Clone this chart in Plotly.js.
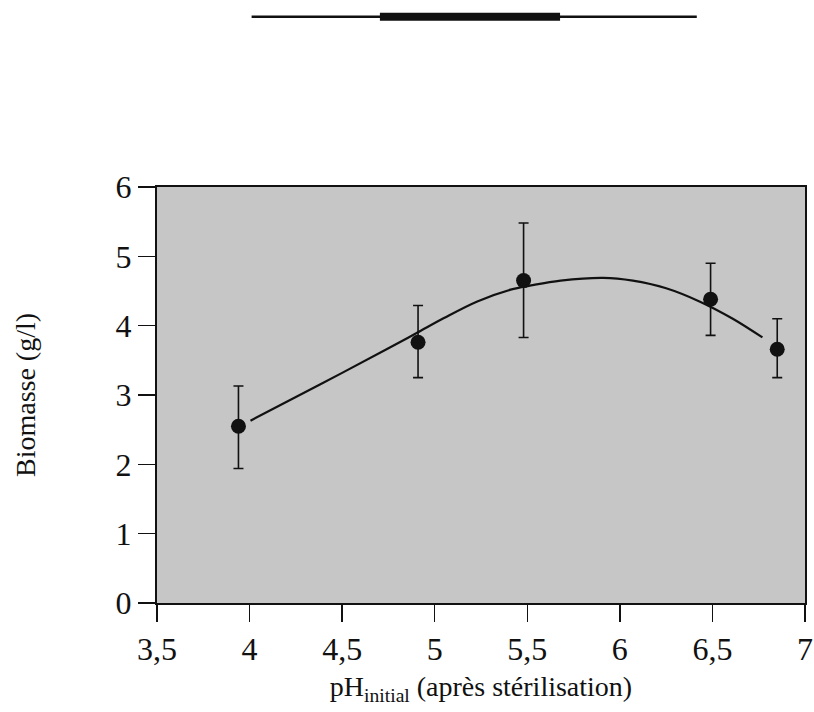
<!DOCTYPE html>
<html>
<head>
<meta charset="utf-8">
<script src="https://cdn.plot.ly/plotly-3.0.1.min.js"></script>
<style>html,body{margin:0;padding:0;background:#fff;}#chart{width:814px;height:712px;}</style>
</head>
<body>
<div id="chart"></div>
<script>
// Measured points (pH initial, biomass g/l) with error bar limits
const phValues = [3.94, 4.91, 5.48, 6.49, 6.85];
const biomass = [2.55, 3.76, 4.65, 4.38, 3.66];
const errUpper = [3.13, 4.29, 5.48, 4.90, 4.10];
const errLower = [1.94, 3.25, 3.83, 3.86, 3.25];

// Fitted curve
const fitX = [4.005, 4.38, 4.74, 4.90, 5.05, 5.23, 5.41, 5.52, 5.68, 5.91, 6.07, 6.25, 6.43, 6.61, 6.77];
const fitY = [2.63, 3.15, 3.66, 3.89, 4.11, 4.35, 4.52, 4.58, 4.65, 4.69, 4.65, 4.54, 4.35, 4.10, 3.83];

// Tick labels
const xTickVals = [3.5, 4, 4.5, 5, 5.5, 6, 6.5, 7];
const xTickText = ['3,5', '4', '4,5', '5', '5,5', '6', '6,5', '7'];
const yTickVals = [0, 1, 2, 3, 4, 5, 6];
const yTickText = ['0', '1', '2', '3', '4', '5', '6'];

const plus = biomass.map((v, i) => errUpper[i] - v);
const minus = biomass.map((v, i) => v - errLower[i]);

const font = 'Liberation Serif, Times New Roman, serif';

const traces = [
  {
    x: fitX, y: fitY, type: 'scatter', mode: 'lines',
    line: {color: '#111', width: 2.2, shape: 'spline', smoothing: 1.0},
    hoverinfo: 'skip', showlegend: false
  },
  {
    x: phValues, y: biomass, type: 'scatter', mode: 'markers',
    marker: {color: '#111', size: 15},
    error_y: {type: 'data', symmetric: false, array: plus, arrayminus: minus,
              color: '#111', thickness: 1.6, width: 5},
    showlegend: false
  }
];

const layout = {
  width: 814, height: 712,
  margin: {l: 157, r: 9, t: 187, b: 109},
  paper_bgcolor: '#ffffff',
  plot_bgcolor: '#c6c6c6',
  font: {family: font, color: '#111', size: 32},
  showlegend: false,
  xaxis: {
    range: [3.5, 7], tickvals: xTickVals, ticktext: xTickText,
    ticks: 'outside', ticklen: 17, tickwidth: 1.5, tickcolor: '#111',
    showline: true, linecolor: '#111', linewidth: 2, mirror: true,
    showgrid: false, zeroline: false,
    tickfont: {family: font, size: 32, color: '#111'},
    title: {text: 'pH<sub>initial</sub> (après stérilisation)', font: {family: font, size: 28, color: '#111'}, standoff: 10}
  },
  yaxis: {
    range: [0, 6], tickvals: yTickVals, ticktext: yTickText,
    ticks: 'outside', ticklen: 17, tickwidth: 1.5, tickcolor: '#111',
    showline: true, linecolor: '#111', linewidth: 2, mirror: true,
    showgrid: false, zeroline: false,
    tickfont: {family: font, size: 32, color: '#111'},
    title: {text: 'Biomasse (g/l)', font: {family: font, size: 28, color: '#111'}, standoff: 72}
  },
  shapes: [
    {type: 'line', xref: 'paper', yref: 'paper', x0: 0.146, x1: 0.833, y0: 1.409, y1: 1.409,
     line: {color: '#111', width: 2.5}},
    {type: 'line', xref: 'paper', yref: 'paper', x0: 0.344, x1: 0.622, y0: 1.409, y1: 1.409,
     line: {color: '#111', width: 8}}
  ]
};

Plotly.newPlot('chart', traces, layout, {displayModeBar: false, staticPlot: true});
</script>
</body>
</html>
